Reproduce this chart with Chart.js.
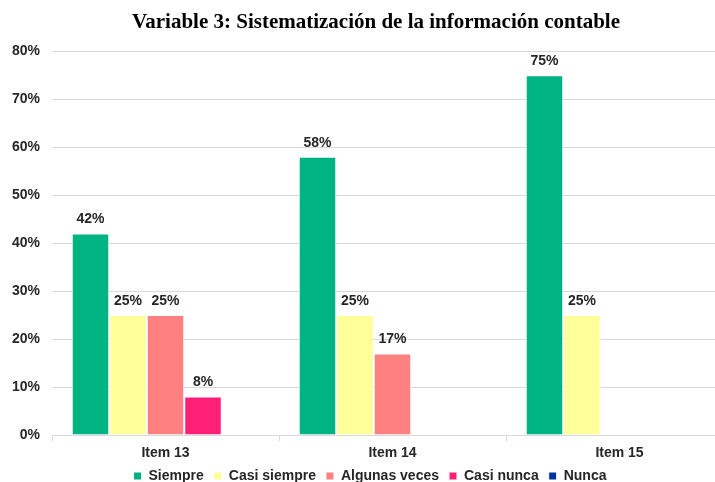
<!DOCTYPE html>
<html>
<head>
<meta charset="utf-8">
<script src="https://cdn.jsdelivr.net/npm/chart.js@4"></script>
<style>
  html, body { margin: 0; padding: 0; background: #fff; overflow: hidden; }
  #wrap { width: 752px; height: 493px; }
</style>
</head>
<body>
<div id="wrap"><canvas id="grafico" width="752" height="493"></canvas></div>
<script>
const categorias = ["Item 13", "Item 14", "Item 15"];
const siempre = [42, 58, 75];
const casiSiempre = [25, 25, 25];
const algunasVeces = [25, 17, 0];
const casiNunca = [8, 0, 0];
const nunca = [0, 0, 0];
const ticksY = [0, 10, 20, 30, 40, 50, 60, 70, 80];

const ctx = document.getElementById("grafico");
Chart.defaults.font.family = "'Liberation Sans', Arial, sans-serif";
Chart.defaults.color = "#262626";

// etiquetas de valor encima de cada barra
const etiquetas = {
  id: "etiquetas",
  afterDatasetsDraw(chart) {
    const c = chart.ctx;
    c.save();
    c.font = "bold 14px 'Liberation Sans', Arial, sans-serif";
    c.fillStyle = "#262626";
    c.textAlign = "center";
    c.textBaseline = "bottom";
    chart.data.datasets.forEach((ds, i) => {
      chart.getDatasetMeta(i).data.forEach((bar, j) => {
        const v = ds.data[j];
        if (!v) return;
        c.fillText(v + "%", bar.x, bar.y - 7);
      });
    });
    c.restore();
  }
};

// el título va un poco corrido a la derecha, como en el original
const tituloCorrido = {
  id: "tituloCorrido",
  afterLayout(chart) {
    const t = chart.titleBlock;
    t.left += 6;
    t.right += 6;
  }
};

new Chart(ctx, {
  type: "bar",
  data: {
    labels: categorias,
    datasets: [
      { label: "Siempre", data: siempre, backgroundColor: "#00B383" },
      { label: "Casi siempre", data: casiSiempre, backgroundColor: "#FFFF99" },
      { label: "Algunas veces", data: algunasVeces, backgroundColor: "#FF8080" },
      { label: "Casi nunca", data: casiNunca, backgroundColor: "#FF1F77" },
      { label: "Nunca", data: nunca, backgroundColor: "#003399" }
    ].map(d => Object.assign(d, {
      borderColor: "#ffffff",
      borderWidth: 1,
      barPercentage: 1,
      categoryPercentage: 0.826
    }))
  },
  options: {
    responsive: false,
    animation: false,
    layout: { padding: { left: 7, right: 19, top: 3, bottom: 0 } },
    scales: {
      x: {
        grid: { drawOnChartArea: false, offset: true, tickLength: 6, color: "#d9d9d9" },
        border: { color: "#d9d9d9" },
        ticks: { font: { size: 14, weight: "bold" }, padding: 4 },
        afterFit: axis => { axis.height = 24; }
      },
      y: {
        min: 0,
        max: 80,
        afterBuildTicks: axis => { axis.ticks = ticksY.map(v => ({ value: v })); },
        grid: { color: "#d9d9d9", drawTicks: false },
        border: { display: false },
        ticks: { font: { size: 14, weight: "bold" }, padding: 12, callback: v => v + "%" },
        afterFit: axis => { axis.width = 45; }
      }
    },
    plugins: {
      title: {
        display: true,
        text: "Variable 3: Sistematización de la información contable",
        font: { family: "'Liberation Serif', 'Times New Roman', serif", size: 21, weight: "bold" },
        color: "#000",
        padding: { top: 7, bottom: 16 }
      },
      legend: {
        position: "bottom",
        labels: {
          boxWidth: 8,
          boxHeight: 8,
          padding: 10,
          font: { size: 14, weight: "bold" }
        }
      },
      tooltip: { enabled: false }
    }
  },
  plugins: [etiquetas, tituloCorrido]
});
</script>
</body>
</html>
